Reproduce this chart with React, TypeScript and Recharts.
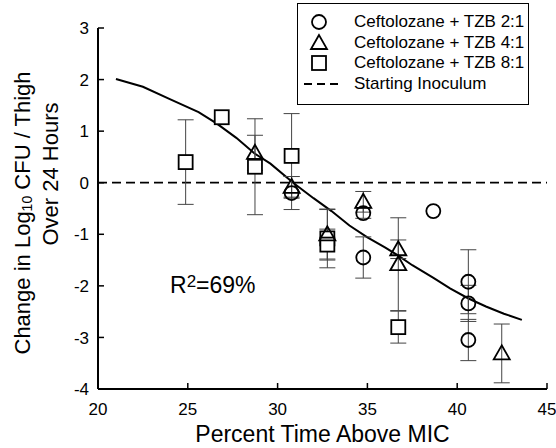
import React from 'react';
import { ComposedChart, XAxis, YAxis, Line, Scatter, ErrorBar, ReferenceLine } from 'recharts';

const FONT = '"Liberation Sans", Arial, Helvetica, sans-serif';

// tick labels
const xTicks = [20, 25, 30, 35, 40, 45];
const yTicks = [-4, -3, -2, -1, 0, 1, 2, 3];

// Ceftolozane + TZB 2:1 (circles)
const ratio2to1 = [
  { x: 30.78, y: -0.2, err: 0.32 },
  { x: 34.77, y: -0.59, err: 0.1 },
  { x: 34.77, y: -1.45, err: 0.4 },
  { x: 38.67, y: -0.55, err: 0 },
  { x: 40.62, y: -1.92, err: 0.62 },
  { x: 40.62, y: -2.34, err: 0.35 },
  { x: 40.62, y: -3.05, err: 0.4 },
];

// Ceftolozane + TZB 4:1 (triangles)
const ratio4to1 = [
  { x: 28.74, y: 0.58, err: 0.34 },
  { x: 30.78, y: -0.08, err: 0.2 },
  { x: 32.77, y: -1.0, err: 0.48 },
  { x: 34.77, y: -0.37, err: 0.2 },
  { x: 36.72, y: -1.29, err: 0.18 },
  { x: 36.72, y: -1.58, err: 0.9 },
  { x: 42.48, y: -3.31, err: 0.57 },
];

// Ceftolozane + TZB 8:1 (squares)
const ratio8to1 = [
  { x: 24.88, y: 0.4, err: 0.82 },
  { x: 26.89, y: 1.27, err: 0 },
  { x: 28.74, y: 0.31, err: 0.93 },
  { x: 30.78, y: 0.52, err: 0.82 },
  { x: 32.77, y: -1.08, err: 0.57 },
  { x: 32.77, y: -1.2, err: 0.3 },
  { x: 36.72, y: -2.8, err: 0.31 },
];

// fitted model curve
const fitX = [21.0, 22.5, 24.0, 25.6, 26.6, 27.7, 28.7, 29.6, 30.9, 32.0, 33.0, 34.0, 35.0, 36.0, 36.7, 37.5, 38.7, 39.6, 40.6, 41.6, 42.6, 43.6];
const fitY = [2.01, 1.86, 1.62, 1.37, 1.15, 0.87, 0.57, 0.37, -0.01, -0.3, -0.55, -0.83, -1.06, -1.26, -1.41, -1.6, -1.85, -2.05, -2.24, -2.4, -2.54, -2.66];
const fitCurve = fitX.map((x, i) => ({ x, y: fitY[i] }));

const legendLabels = ['Ceftolozane + TZB 2:1', 'Ceftolozane + TZB 4:1', 'Ceftolozane + TZB 8:1', 'Starting Inoculum'];

const Circle = (p: any) => (
  <circle cx={p.cx} cy={p.cy} r={7} fill="none" stroke="#000" strokeWidth={1.8} />
);
const Triangle = (p: any) => {
  const s = 8;
  const pts = `${p.cx},${p.cy - s} ${p.cx - s},${p.cy + s * 0.75} ${p.cx + s},${p.cy + s * 0.75}`;
  return <polygon points={pts} fill="none" stroke="#000" strokeWidth={1.8} />;
};
const Square = (p: any) => (
  <rect x={p.cx - 7} y={p.cy - 7} width={14} height={14} fill="#fff" stroke="#000" strokeWidth={1.8} />
);

const LeftTick = (props: any) => {
  const { x, y, payload } = props;
  const ax = x + 9;
  return (
    <g>
      <line x1={ax} x2={ax + 6} y1={y} y2={y} stroke="#000" strokeWidth={1.5} />
      <text x={x} y={y} dy="0.36em" textAnchor="end" fontSize={17} fontFamily={FONT} fill="#000">
        {payload.value}
      </text>
    </g>
  );
};

const RightTick = (props: any) => {
  const { x, y } = props;
  return <line x1={x - 6} x2={x} y1={y} y2={y} stroke="#000" strokeWidth={1.5} />;
};

const BottomTick = (props: any) => {
  const { x, y, payload } = props;
  const ay = y - 14;
  return (
    <g>
      <line x1={x} x2={x} y1={ay} y2={ay - 6} stroke="#000" strokeWidth={1.5} />
      <text x={x} y={y} dy="0.72em" textAnchor="middle" fontSize={17} fontFamily={FONT} fill="#000">
        {payload.value}
      </text>
    </g>
  );
};

const YTitle = () => (
  <g fontFamily={FONT} fill="#000">
    <text x={14} y={205} transform="rotate(-90 14 205)" textAnchor="middle" dominantBaseline="central" fontSize={22}>
      Change in Log
      <tspan fontSize={14} dy={5}>10</tspan>
      <tspan dy={-5}> CFU / Thigh</tspan>
    </text>
    <text x={42} y={166} transform="rotate(-90 42 166)" textAnchor="middle" dominantBaseline="central" fontSize={22}>
      Over 24 Hours
    </text>
  </g>
);

const XTitle = (props: any) => {
  const vb = props.viewBox || {};
  const cx = (vb.x || 0) + (vb.width || 0) / 2;
  return (
    <text x={cx} y={434} textAnchor="middle" fontSize={23} fontFamily={FONT} fill="#000">
      Percent Time Above MIC
    </text>
  );
};

const LegendBox = () => {
  const icons = [
    <circle key="c" cx={19} cy={10} r={7} fill="none" stroke="#000" strokeWidth={1.8} />,
    <polygon key="t" points="19,2 11,16 27,16" fill="none" stroke="#000" strokeWidth={1.8} />,
    <rect key="s" x={12} y={3} width={14} height={14} fill="none" stroke="#000" strokeWidth={1.8} />,
    <line key="d" x1={4} x2={39} y1={10} y2={10} stroke="#000" strokeWidth={1.8} strokeDasharray="8 5" />,
  ];
  return (
    <div
      style={{
        position: 'absolute',
        left: 297 - 8,
        top: 3 - 8,
        width: 232,
        height: 102,
        border: '1.5px solid #000',
        boxSizing: 'border-box',
        background: '#fff',
        fontFamily: FONT,
        fontSize: 17,
        paddingTop: 8,
      }}
    >
      {legendLabels.map((lab, i) => (
        <div key={lab} style={{ display: 'flex', alignItems: 'center', height: 20.6, whiteSpace: 'nowrap' }}>
          <svg width={54} height={20} style={{ marginLeft: 2 }}>
            {icons[i]}
          </svg>
          <span style={{ marginLeft: 0 }}>{lab}</span>
        </div>
      ))}
    </div>
  );
};

export default function App() {
  return (
    <div style={{ position: 'relative', width: 548, height: 440, fontFamily: FONT }}>
      <style>
        {'html{overflow:hidden}body,#root{overflow:visible !important}.recharts-wrapper,.recharts-surface{overflow:visible !important}'}
      </style>
      <ComposedChart width={548} height={440} margin={{ top: 20, right: 9, bottom: 0, left: 0 }}>
        <XAxis
          type="number"
          dataKey="x"
          domain={[20, 45]}
          ticks={xTicks}
          height={59}
          tickSize={0}
          tickMargin={14}
          tickLine={false}
          tick={<BottomTick />}
          axisLine={{ stroke: '#000', strokeWidth: 2 }}
          allowDataOverflow
          interval={0}
          label={<XTitle />}
        />
        <YAxis
          type="number"
          dataKey="y"
          domain={[-4, 3]}
          ticks={yTicks}
          width={90}
          tickSize={0}
          tickMargin={9}
          tickLine={false}
          tick={<LeftTick />}
          axisLine={{ stroke: '#000', strokeWidth: 2 }}
          allowDataOverflow
          interval={0}
          label={<YTitle />}
        />
        <YAxis
          yAxisId="r"
          orientation="right"
          type="number"
          domain={[-4, 3]}
          ticks={yTicks}
          width={0}
          tickSize={0}
          tickMargin={0}
          tickLine={false}
          tick={<RightTick />}
          axisLine={{ stroke: '#000', strokeWidth: 2 }}
          allowDataOverflow
          interval={0}
        />
        <ReferenceLine y={0} stroke="#000" strokeWidth={1.8} strokeDasharray="9 5" ifOverflow="extendDomain" />
        <Line
          data={fitCurve}
          dataKey="y"
          type="linear"
          stroke="#000"
          strokeWidth={2}
          dot={false}
          isAnimationActive={false}
          legendType="none"
        />
        <Scatter data={ratio8to1} dataKey="y" shape={<Square />} isAnimationActive={false}>
          <ErrorBar dataKey="err" direction="y" width={8} stroke="#444" strokeWidth={1} isAnimationActive={false} />
        </Scatter>
        <Scatter data={ratio4to1} dataKey="y" shape={<Triangle />} isAnimationActive={false}>
          <ErrorBar dataKey="err" direction="y" width={8} stroke="#444" strokeWidth={1} isAnimationActive={false} />
        </Scatter>
        <Scatter data={ratio2to1} dataKey="y" shape={<Circle />} isAnimationActive={false}>
          <ErrorBar dataKey="err" direction="y" width={8} stroke="#444" strokeWidth={1} isAnimationActive={false} />
        </Scatter>
      </ComposedChart>
      <LegendBox />
      <div
        style={{
          position: 'absolute',
          left: 170 - 8,
          top: 272 - 8,
          fontFamily: FONT,
          fontSize: 23,
          lineHeight: '26px',
          whiteSpace: 'nowrap',
        }}
      >
        R<sup style={{ fontSize: 17, verticalAlign: 'top', position: 'relative', top: -3 }}>2</sup>=69%
      </div>
    </div>
  );
}
